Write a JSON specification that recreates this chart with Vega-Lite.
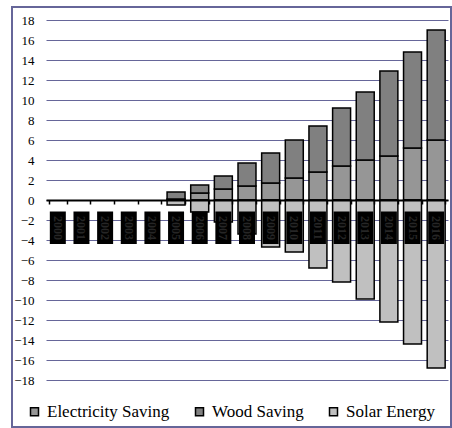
{
  "$schema": "https://vega.github.io/schema/vega-lite/v6.json",
  "width": 439,
  "height": 420,
  "autosize": {"type": "none"},
  "padding": {"left": 12, "top": 7, "right": 1, "bottom": 1},
  "background": "white",
  "config": {
    "view": {"stroke": "#666699", "strokeWidth": 2},
    "axis": {"labelOverlap": false, "labelSeparation": 0},
    "axisY": {"labelOverlap": false, "labelFont": "Liberation Serif", "labelFontSize": 13, "labelColor": "black"},
    "legend": {"labelFont": "Liberation Serif"}
  },
  "datasets": {
    "bars": [
      {"year": "2005", "series": "Electricity Saving", "value": 0.1},
      {"year": "2005", "series": "Wood Saving", "value": 0.7},
      {"year": "2005", "series": "Solar Energy", "value": -0.5},
      {"year": "2006", "series": "Electricity Saving", "value": 0.7},
      {"year": "2006", "series": "Wood Saving", "value": 0.8},
      {"year": "2006", "series": "Solar Energy", "value": -1.2},
      {"year": "2007", "series": "Electricity Saving", "value": 1.1},
      {"year": "2007", "series": "Wood Saving", "value": 1.3},
      {"year": "2007", "series": "Solar Energy", "value": -2.2},
      {"year": "2008", "series": "Electricity Saving", "value": 1.4},
      {"year": "2008", "series": "Wood Saving", "value": 2.3},
      {"year": "2008", "series": "Solar Energy", "value": -3.4},
      {"year": "2009", "series": "Electricity Saving", "value": 1.7},
      {"year": "2009", "series": "Wood Saving", "value": 3.0},
      {"year": "2009", "series": "Solar Energy", "value": -4.7},
      {"year": "2010", "series": "Electricity Saving", "value": 2.2},
      {"year": "2010", "series": "Wood Saving", "value": 3.8},
      {"year": "2010", "series": "Solar Energy", "value": -5.2},
      {"year": "2011", "series": "Electricity Saving", "value": 2.8},
      {"year": "2011", "series": "Wood Saving", "value": 4.6},
      {"year": "2011", "series": "Solar Energy", "value": -6.8},
      {"year": "2012", "series": "Electricity Saving", "value": 3.4},
      {"year": "2012", "series": "Wood Saving", "value": 5.8},
      {"year": "2012", "series": "Solar Energy", "value": -8.2},
      {"year": "2013", "series": "Electricity Saving", "value": 4.0},
      {"year": "2013", "series": "Wood Saving", "value": 6.8},
      {"year": "2013", "series": "Solar Energy", "value": -9.9},
      {"year": "2014", "series": "Electricity Saving", "value": 4.4},
      {"year": "2014", "series": "Wood Saving", "value": 8.5},
      {"year": "2014", "series": "Solar Energy", "value": -12.2},
      {"year": "2015", "series": "Electricity Saving", "value": 5.2},
      {"year": "2015", "series": "Wood Saving", "value": 9.6},
      {"year": "2015", "series": "Solar Energy", "value": -14.4},
      {"year": "2016", "series": "Electricity Saving", "value": 6.0},
      {"year": "2016", "series": "Wood Saving", "value": 11.0},
      {"year": "2016", "series": "Solar Energy", "value": -16.8}
    ],
    "cats": [
      {"year": "2000"}, {"year": "2001"}, {"year": "2002"}, {"year": "2003"},
      {"year": "2004"}, {"year": "2005"}, {"year": "2006"}, {"year": "2007"},
      {"year": "2008"}, {"year": "2009"}, {"year": "2010"}, {"year": "2011"},
      {"year": "2012"}, {"year": "2013"}, {"year": "2014"}, {"year": "2015"},
      {"year": "2016"}
    ]
  },
  "layer": [
    {
      "data": {"name": "bars"},
      "mark": {"type": "bar", "stroke": "black", "strokeWidth": 1.5},
      "encoding": {
        "x": {
          "field": "year", "type": "ordinal",
          "scale": {"range": [34, 436], "paddingInner": 0.24, "paddingOuter": 0.12},
          "axis": {"orient": "bottom", "offset": -227, "domainColor": "black", "domainWidth": 2,
                   "ticks": true, "tickColor": "black", "tickSize": 4, "tickWidth": 1.5, "tickBand": "extent",
                   "labels": false, "title": null, "grid": false, "zindex": 1}
        },
        "y": {
          "field": "value", "type": "quantitative", "stack": "zero",
          "scale": {"domain": [-22.7, 19.3], "nice": false, "zero": false},
          "axis": {"values": [-18, -16, -14, -12, -10, -8, -6, -4, -2, 0, 2, 4, 6, 8, 10, 12, 14, 16, 18],
                   "domain": false, "ticks": false, "tickSize": 0, "grid": true, "gridColor": "#666699", "gridWidth": 1,
                   "labelPadding": -22, "labelOverlap": false, "labelAlign": "right", "title": null}
        },
        "order": {"field": "series", "type": "nominal", "sort": "ascending"},
        "color": {
          "field": "series", "type": "nominal",
          "sort": ["Electricity Saving", "Wood Saving", "Solar Energy"],
          "scale": {"domain": ["Electricity Saving", "Wood Saving", "Solar Energy"], "range": ["#969696", "#808080", "#C0C0C0"]},
          "legend": {"orient": "none", "legendX": 14, "legendY": 396, "direction": "horizontal", "title": null,
                     "symbolType": "square", "symbolSize": 64, "symbolStrokeColor": "black", "symbolStrokeWidth": 1.5,
                     "labelFontSize": 17, "labelColor": "black",
                     "columnPadding": 21, "labelOffset": 4, "padding": 0}
        }
      }
    },
    {
      "data": {"name": "cats"},
      "mark": {"type": "bar", "color": "black", "size": 16},
      "encoding": {
        "x": {"field": "year", "type": "ordinal"},
        "y": {"datum": -1.15, "axis": {"values": [-18, -16, -14, -12, -10, -8, -6, -4, -2, 0, 2, 4, 6, 8, 10, 12, 14, 16, 18], "labelOverlap": false}},
        "y2": {"datum": -4.4}
      }
    },
    {
      "data": {"name": "cats"},
      "mark": {"type": "text", "angle": 90, "color": "#262626", "font": "Liberation Serif", "fontSize": 12, "fontWeight": "bold", "baseline": "middle", "align": "center"},
      "encoding": {
        "x": {"field": "year", "type": "ordinal"},
        "y": {"datum": -2.8, "axis": {"values": [-18, -16, -14, -12, -10, -8, -6, -4, -2, 0, 2, 4, 6, 8, 10, 12, 14, 16, 18], "labelOverlap": false}},
        "text": {"field": "year"}
      }
    }
  ]
}
